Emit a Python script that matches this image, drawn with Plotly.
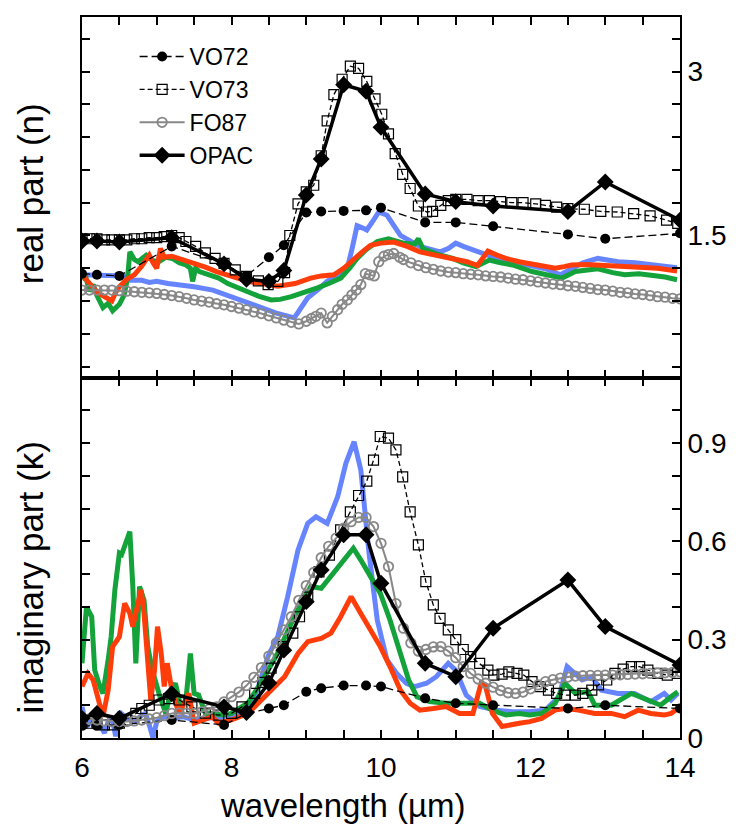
import plotly.graph_objects as go

# ---------------- DATA ----------------
opac_wl = [6.0, 6.2, 6.5, 7.2, 7.9, 8.2, 8.5, 8.7, 9.0, 9.2, 9.5, 9.8, 10.0, 10.591, 11.0, 11.5, 12.5, 13.0, 14.0]
opac_n = [1.45, 1.45, 1.44, 1.48, 1.24, 1.10, 1.08, 1.18, 1.87, 2.20, 2.88, 2.82, 2.49, 1.88, 1.81, 1.77, 1.72, 1.99, 1.64]
opac_k = [0.06, 0.075, 0.06, 0.135, 0.095, 0.078, 0.168, 0.268, 0.416, 0.513, 0.62, 0.62, 0.472, 0.228, 0.187, 0.335, 0.482, 0.34, 0.223]

vo72_wl = [6.0, 6.2, 6.5, 7.2, 7.9, 8.2, 8.5, 8.7, 9.0, 9.2, 9.5, 9.8, 10.0, 10.591, 11.0, 11.5, 12.5, 13.0, 14.0]
vo72_n = [1.15, 1.14, 1.13, 1.40, 1.24, 1.13, 1.30, 1.41, 1.71, 1.72, 1.725, 1.73, 1.755, 1.62, 1.62, 1.585, 1.51, 1.47, 1.52]
vo72_k = [0.037, 0.037, 0.04, 0.055, 0.04, 0.075, 0.09, 0.10, 0.141, 0.152, 0.16, 0.16, 0.157, 0.121, 0.106, 0.10, 0.09, 0.10, 0.09]

vo73_n_wl = [6.0, 6.1, 6.2, 6.3, 6.4, 6.5, 6.6, 6.7, 6.8, 6.9, 7.0, 7.1, 7.2, 7.3, 7.39, 7.52, 7.65, 7.78, 7.9, 8.05,
             8.2, 8.36, 8.49, 8.62, 8.71, 8.78, 8.89, 9.0, 9.1, 9.2, 9.28, 9.37, 9.48, 9.59, 9.70, 9.81, 9.92, 10.01, 10.1, 10.19,
             10.29, 10.39, 10.5, 10.61, 10.69, 10.8, 10.9, 11.0, 11.15, 11.3, 11.45, 11.6, 11.75, 11.9, 12.07, 12.2, 12.35, 12.5, 12.72, 12.94,
             13.16, 13.38, 13.6, 13.82, 13.97]
vo73_n = [1.47, 1.47, 1.47, 1.46, 1.46, 1.46, 1.46, 1.47, 1.47, 1.48, 1.48, 1.49, 1.50, 1.48, 1.445, 1.40, 1.34, 1.29, 1.245, 1.185,
          1.125, 1.085, 1.05, 1.08, 1.16, 1.50, 1.79, 1.90, 1.96, 2.23, 2.55, 2.79, 2.93, 3.05, 3.03, 2.91, 2.75, 2.61, 2.43, 2.25,
          2.06, 1.93, 1.77, 1.715, 1.72, 1.775, 1.82, 1.83, 1.83, 1.82, 1.82, 1.81, 1.80, 1.80, 1.79, 1.775, 1.76, 1.745, 1.74, 1.72,
          1.715, 1.70, 1.68, 1.64, 1.61]

vo73_k_wl = [6.0, 6.1, 6.2, 6.3, 6.41, 6.5, 6.6, 6.72, 6.8, 6.9, 7.03, 7.16, 7.3, 7.47, 7.65, 7.83, 8.0, 8.14, 8.31, 8.42,
             8.53, 8.69, 8.82, 8.91, 9.02, 9.17, 9.31, 9.46, 9.59, 9.7, 9.81, 9.9, 9.99, 10.1, 10.2, 10.29, 10.39, 10.5, 10.6, 10.7,
             10.79, 10.9, 11.0, 11.1, 11.2, 11.32, 11.43, 11.51, 11.62, 11.71, 11.82, 11.91, 12.02, 12.13, 12.24, 12.35, 12.46, 12.6, 12.7, 12.82,
             12.91, 13.02, 13.13, 13.24, 13.35, 13.46, 13.57, 13.7, 13.83, 13.97]
vo73_k = [0.045, 0.045, 0.045, 0.04, 0.04, 0.045, 0.055, 0.075, 0.09, 0.10, 0.116, 0.12, 0.116, 0.095, 0.076, 0.07, 0.075, 0.095, 0.136, 0.17,
          0.213, 0.279, 0.32, 0.37, 0.43, 0.507, 0.558, 0.635, 0.69, 0.74, 0.784, 0.848, 0.92, 0.915, 0.879, 0.797, 0.69, 0.589, 0.477, 0.406,
          0.365, 0.33, 0.30, 0.27, 0.248, 0.228, 0.207, 0.192, 0.195, 0.202, 0.197, 0.192, 0.172, 0.157, 0.146, 0.136, 0.131, 0.131, 0.136, 0.146,
          0.162, 0.177, 0.197, 0.21, 0.218, 0.218, 0.207, 0.197, 0.192, 0.197]

fo87_n_wl = [6.0, 6.1, 6.2, 6.3, 6.4, 6.5, 6.6, 6.7, 6.8, 6.9, 7.0, 7.1, 7.2, 7.3, 7.4, 7.5, 7.6, 7.7, 7.8, 7.9,
             8.0, 8.1, 8.2, 8.3, 8.4, 8.5, 8.6, 8.7, 8.8, 8.9, 9.0, 9.07, 9.13, 9.2, 9.28, 9.35, 9.42, 9.48, 9.55, 9.61,
             9.67, 9.73, 9.79, 9.85, 9.91, 9.97, 10.04, 10.1, 10.17, 10.25, 10.3, 10.4, 10.5, 10.6, 10.7, 10.8, 10.9, 11.0, 11.1, 11.2,
             11.3, 11.4, 11.5, 11.6, 11.7, 11.8, 11.9, 12.0, 12.1, 12.2, 12.3, 12.4, 12.5, 12.6, 12.7, 12.8, 12.9, 13.0, 13.1, 13.2,
             13.3, 13.4, 13.5, 13.6, 13.7, 13.8, 13.9, 14.0]
fo87_n = [1.0, 1.0, 1.0, 1.0, 1.0, 0.995, 0.99, 0.985, 0.98, 0.975, 0.97, 0.96, 0.95, 0.94, 0.925, 0.91, 0.90, 0.89, 0.875, 0.865,
          0.85, 0.835, 0.82, 0.80, 0.785, 0.765, 0.745, 0.725, 0.705, 0.69, 0.715, 0.74, 0.76, 0.79, 0.70, 0.76, 0.82, 0.87, 0.91, 0.955,
          1.0, 1.05, 1.15, 1.14, 1.13, 1.26, 1.31, 1.325, 1.335, 1.30, 1.28, 1.25, 1.225, 1.205, 1.19, 1.175, 1.165, 1.16, 1.15, 1.145,
          1.14, 1.13, 1.125, 1.12, 1.11, 1.10, 1.095, 1.085, 1.075, 1.065, 1.055, 1.05, 1.04, 1.035, 1.025, 1.015, 1.005, 1.0, 0.99, 0.98,
          0.975, 0.965, 0.96, 0.95, 0.94, 0.935, 0.925, 0.92]

fo87_k_wl = [6.0, 6.1, 6.2, 6.3, 6.4, 6.5, 6.6, 6.7, 6.8, 6.9, 7.0, 7.1, 7.2, 7.3, 7.4, 7.5, 7.6, 7.7, 7.8, 7.9,
             8.0, 8.1, 8.2, 8.3, 8.4, 8.5, 8.6, 8.7, 8.8, 8.9, 9.0, 9.1, 9.2, 9.3, 9.4, 9.5, 9.6, 9.7, 9.8, 9.9,
             10.0, 10.1, 10.2, 10.3, 10.4, 10.5, 10.6, 10.7, 10.8, 10.9, 11.0, 11.1, 11.2, 11.3, 11.4, 11.5, 11.6, 11.7, 11.8, 11.9,
             12.0, 12.1, 12.2, 12.3, 12.4, 12.5, 12.6, 12.7, 12.8, 12.9, 13.0, 13.1, 13.2, 13.3, 13.4, 13.5, 13.6, 13.7, 13.8, 13.9, 14.0]
fo87_k = [0.06, 0.058, 0.055, 0.052, 0.05, 0.05, 0.05, 0.052, 0.055, 0.058, 0.062, 0.068, 0.075, 0.076, 0.076, 0.075, 0.08, 0.088, 0.095, 0.11,
          0.126, 0.14, 0.16, 0.185, 0.215, 0.25, 0.29, 0.33, 0.37, 0.42, 0.465, 0.505, 0.55, 0.585, 0.61, 0.64, 0.66, 0.673, 0.673, 0.645,
          0.594, 0.523, 0.41, 0.335, 0.29, 0.265, 0.27, 0.278, 0.279, 0.265, 0.245, 0.218, 0.197, 0.18, 0.167, 0.155, 0.145, 0.138, 0.136, 0.14,
          0.15, 0.162, 0.172, 0.178, 0.183, 0.186, 0.189, 0.19, 0.191, 0.191, 0.192, 0.192, 0.193, 0.194, 0.195, 0.196, 0.197, 0.198, 0.199, 0.20, 0.202]

blue_n_wl = [6.0, 6.2, 6.4, 6.55, 6.65, 6.8, 6.9, 7.0, 7.15, 7.3, 7.5, 7.75, 7.96, 8.2, 8.4, 8.6, 8.84, 9.02, 9.15, 9.28,
             9.42, 9.55, 9.62, 9.68, 9.75, 9.81, 9.9, 9.97, 10.08, 10.26, 10.52, 10.79, 10.9, 11.0, 11.1, 11.23, 11.49, 11.85, 12.2, 12.4,
             12.55, 12.7, 12.9, 13.17, 13.4, 13.61, 13.8, 13.96]
blue_n = [1.14, 1.14, 1.14, 1.13, 1.09, 1.09, 1.07, 1.08, 1.06, 1.05, 1.03, 1.0, 0.95, 0.89, 0.835, 0.79, 0.745, 0.93, 1.0, 1.08,
          1.14, 1.20, 1.40, 1.59, 1.57, 1.55, 1.64, 1.715, 1.685, 1.50, 1.40, 1.35, 1.38, 1.43, 1.40, 1.37, 1.305, 1.245, 1.195, 1.14,
          1.20, 1.25, 1.29, 1.26, 1.25, 1.235, 1.22, 1.205]

green_n_wl = [6.0, 6.05, 6.1, 6.15, 6.2, 6.28, 6.35, 6.41, 6.5, 6.56, 6.61, 6.64, 6.7, 6.75, 6.86, 6.95, 7.03, 7.12, 7.21, 7.3,
              7.39, 7.45, 7.48, 7.52, 7.57, 7.7, 7.83, 7.95, 8.09, 8.2, 8.36, 8.53, 8.65, 8.8, 9.0, 9.15, 9.3, 9.46, 9.58, 9.68,
              9.8, 9.95, 10.1, 10.3, 10.45, 10.5, 10.56, 10.75, 10.96, 11.1, 11.27, 11.45, 11.6, 11.76, 12.02, 12.2, 12.42, 12.6, 12.75, 12.9,
              13.1, 13.26, 13.45, 13.6, 13.8, 13.96]
green_n = [1.10, 1.12, 0.99, 1.05, 0.95, 0.84, 0.88, 0.81, 0.87, 0.95, 1.11, 1.35, 1.28, 1.26, 1.32, 1.27, 1.26, 1.30, 1.29, 1.25,
           1.23, 1.20, 1.08, 1.20, 1.17, 1.14, 1.11, 1.06, 1.02, 0.98, 0.945, 0.91, 0.915, 0.94, 0.98, 1.02, 1.06, 1.11, 1.20, 1.29,
           1.37, 1.445, 1.47, 1.43, 1.42, 1.47, 1.38, 1.33, 1.29, 1.25, 1.215, 1.275, 1.25, 1.23, 1.17, 1.14, 1.11, 1.17, 1.18, 1.195,
           1.16, 1.14, 1.15, 1.14, 1.12, 1.095]

red_n_wl = [6.0, 6.05, 6.1, 6.18, 6.25, 6.32, 6.4, 6.45, 6.5, 6.6, 6.7, 6.8, 6.9, 6.95, 7.0, 7.05, 7.1, 7.2, 7.35, 7.5,
            7.65, 7.8, 8.0, 8.22, 8.4, 8.62, 8.85, 9.06, 9.2, 9.37, 9.5, 9.64, 9.75, 9.86, 10.0, 10.17, 10.35, 10.52, 10.75, 10.96,
            11.15, 11.29, 11.43, 11.55, 11.67, 11.85, 12.02, 12.2, 12.33, 12.45, 12.55, 12.75, 12.95, 13.2, 13.44, 13.7, 13.96]
red_n = [1.14, 1.10, 1.05, 1.00, 0.96, 0.93, 0.90, 0.98, 1.03, 1.10, 1.14, 1.22, 1.32, 1.25, 1.20, 1.38, 1.30, 1.31, 1.28, 1.245,
         1.21, 1.17, 1.125, 1.08, 1.06, 1.035, 1.06, 1.11, 1.13, 1.14, 1.20, 1.29, 1.35, 1.41, 1.43, 1.44, 1.40, 1.35, 1.32, 1.29,
         1.26, 1.225, 1.357, 1.32, 1.29, 1.26, 1.235, 1.215, 1.20, 1.215, 1.23, 1.235, 1.23, 1.22, 1.215, 1.20, 1.175]

blue_k_wl = [6.0, 6.03, 6.06, 6.1, 6.15, 6.2, 6.25, 6.3, 6.35, 6.4, 6.45, 6.5, 6.6, 6.7, 6.8, 6.85, 6.9, 6.95, 7.0, 7.1,
             7.2, 7.35, 7.5, 7.7, 7.96, 8.1, 8.22, 8.35, 8.49, 8.62, 8.75, 8.89, 9.02, 9.13, 9.28, 9.42, 9.53, 9.64, 9.73, 9.84,
             9.95, 10.08, 10.21, 10.34, 10.45, 10.61, 10.74, 10.9, 11.0, 11.14, 11.32, 11.54, 11.76, 11.98, 12.2, 12.38, 12.49, 12.57, 12.69, 12.82,
             12.95, 13.17, 13.39, 13.61, 13.79, 13.88, 13.97]
blue_k = [0.095, 0.06, 0.035, 0.05, 0.04, 0.06, 0.04, 0.015, 0.05, 0.065, 0.005, 0.08, 0.06, 0.05, 0.07, 0.075, 0.04, 0.0, 0.05, 0.065,
          0.06, 0.065, 0.055, 0.06, 0.065, 0.072, 0.085, 0.15, 0.25, 0.31, 0.43, 0.574, 0.655, 0.675, 0.655, 0.736, 0.838, 0.904, 0.818, 0.564,
          0.36, 0.238, 0.197, 0.167, 0.157, 0.167, 0.187, 0.228, 0.207, 0.131, 0.096, 0.085, 0.08, 0.08, 0.085, 0.126, 0.218, 0.202, 0.177, 0.187,
          0.146, 0.136, 0.136, 0.111, 0.136, 0.116, 0.136]

green_k_wl = [6.0, 6.06, 6.13, 6.17, 6.24, 6.28, 6.35, 6.39, 6.44, 6.5, 6.53, 6.59, 6.64, 6.68, 6.72, 6.77, 6.83, 6.88, 6.94, 7.03,
              7.12, 7.19, 7.25, 7.32, 7.39, 7.45, 7.5, 7.56, 7.65, 7.74, 7.87, 8.0, 8.22, 8.4, 8.62, 8.84, 9.06, 9.2, 9.37, 9.51,
              9.63, 9.73, 9.86, 9.99, 10.12, 10.26, 10.37, 10.48, 10.65, 10.87, 11.14, 11.32, 11.49, 11.67, 11.85, 11.99, 12.15, 12.33, 12.46, 12.6,
              12.77, 12.86, 13.08, 13.35, 13.57, 13.74, 13.88, 13.97]
green_k = [0.228, 0.40, 0.37, 0.207, 0.157, 0.136, 0.238, 0.309, 0.452, 0.564, 0.56, 0.594, 0.63, 0.462, 0.228, 0.462, 0.42, 0.279, 0.207, 0.136,
           0.075, 0.146, 0.167, 0.096, 0.116, 0.258, 0.136, 0.131, 0.075, 0.075, 0.07, 0.075, 0.107, 0.17, 0.26, 0.37, 0.462, 0.457, 0.503, 0.543,
           0.579, 0.543, 0.492, 0.442, 0.36, 0.258, 0.177, 0.126, 0.111, 0.106, 0.106, 0.106, 0.085, 0.07, 0.075, 0.07, 0.075, 0.106, 0.167, 0.136,
           0.141, 0.10, 0.10, 0.136, 0.116, 0.10, 0.126, 0.141]

red_k_wl = [6.0, 6.08, 6.15, 6.22, 6.28, 6.35, 6.41, 6.5, 6.57, 6.64, 6.68, 6.75, 6.79, 6.83, 6.88, 6.92, 6.97, 7.01, 7.06, 7.1,
            7.14, 7.21, 7.3, 7.43, 7.5, 7.61, 7.74, 7.83, 8.0, 8.22, 8.49, 8.71, 8.89, 9.02, 9.2, 9.33, 9.46, 9.6, 9.73, 9.86,
            9.99, 10.12, 10.26, 10.39, 10.52, 10.7, 10.87, 11.05, 11.23, 11.34, 11.4, 11.49, 11.62, 11.85, 11.99, 12.15, 12.33, 12.46, 12.64, 12.86,
            13.08, 13.26, 13.44, 13.61, 13.79, 13.88, 13.97]
red_k = [0.157, 0.197, 0.177, 0.116, 0.065, 0.146, 0.279, 0.309, 0.411, 0.38, 0.34, 0.411, 0.452, 0.38, 0.238, 0.116, 0.207, 0.34, 0.258, 0.157,
         0.228, 0.136, 0.075, 0.136, 0.045, 0.055, 0.065, 0.045, 0.055, 0.075, 0.136, 0.187, 0.258, 0.294, 0.304, 0.32, 0.37, 0.431, 0.38, 0.33,
         0.279, 0.218, 0.146, 0.106, 0.085, 0.09, 0.096, 0.075, 0.075, 0.167, 0.157, 0.075, 0.035, 0.045, 0.05, 0.06, 0.085, 0.09, 0.085, 0.075,
         0.075, 0.065, 0.085, 0.075, 0.07, 0.075, 0.09]

# tick positions / labels
x_tick_vals = [6, 6.5, 7, 7.5, 8, 8.5, 9, 9.5, 10, 10.5, 11, 11.5, 12, 12.5, 13, 13.5, 14]
x_tick_text = ["6", "", "", "", "8", "", "", "", "10", "", "", "", "12", "", "", "", "14"]
n_tick_vals = [0.3, 0.6, 0.9, 1.2, 1.5, 1.8, 2.1, 2.4, 2.7, 3.0, 3.3]
n_tick_text = ["", "", "", "", "1.5", "", "", "", "", "3", ""]
k_tick_vals = [0, 0.1, 0.2, 0.3, 0.4, 0.5, 0.6, 0.7, 0.8, 0.9, 1.0]
k_tick_text = ["0", "", "", "0.3", "", "", "0.6", "", "", "0.9", ""]

# ---------------- STYLE ----------------
FONT = "Arial, Liberation Sans, sans-serif"
BLUE = "#6784ff"
GREEN = "#14a23a"
RED = "#ff3d0a"
GRAY = "#888888"

fig = go.Figure()

def add_panel(yax, xax, bl, gr, rd, fo, v72, v73, op, legend):
    for (wl, vals, col) in [bl + (BLUE,), gr + (GREEN,), rd + (RED,)]:
        fig.add_trace(go.Scatter(x=wl, y=vals, mode="lines", line=dict(color=col, width=5),
                                 showlegend=False, xaxis=xax, yaxis=yax, hoverinfo="skip"))
    fig.add_trace(go.Scatter(x=v72[0], y=v72[1], mode="lines+markers", name="VO72",
                             line=dict(color="black", width=1.3, dash="8px,4px"),
                             marker=dict(symbol="circle", size=10, color="black"),
                             showlegend=legend, legendrank=1, xaxis=xax, yaxis=yax))
    fig.add_trace(go.Scatter(x=v73[0], y=v73[1], mode="lines+markers", name="VO73",
                             line=dict(color="black", width=1.3, dash="5px,3px"),
                             marker=dict(symbol="square-open", size=10, color="black", line=dict(width=1.2)),
                             showlegend=legend, legendrank=2, xaxis=xax, yaxis=yax))
    fig.add_trace(go.Scatter(x=fo[0], y=fo[1], mode="lines+markers", name="FO87",
                             line=dict(color=GRAY, width=2),
                             marker=dict(symbol="circle-open", size=9.5, color=GRAY, line=dict(width=1.8)),
                             showlegend=legend, legendrank=3, xaxis=xax, yaxis=yax))
    fig.add_trace(go.Scatter(x=op[0], y=op[1], mode="lines+markers", name="OPAC",
                             line=dict(color="black", width=3.5),
                             marker=dict(symbol="diamond", size=13, color="black"),
                             showlegend=legend, legendrank=4, xaxis=xax, yaxis=yax))

add_panel("y2", "x2", (blue_n_wl, blue_n), (green_n_wl, green_n), (red_n_wl, red_n),
          (fo87_n_wl, fo87_n), (vo72_wl, vo72_n), (vo73_n_wl, vo73_n), (opac_wl, opac_n), True)
add_panel("y", "x", (blue_k_wl, blue_k), (green_k_wl, green_k), (red_k_wl, red_k),
          (fo87_k_wl, fo87_k), (vo72_wl, vo72_k), (vo73_k_wl, vo73_k), (opac_wl, opac_k), False)

axis_common = dict(showline=True, linecolor="black", linewidth=2, mirror="allticks",
                   ticks="inside", tickcolor="black", tickwidth=1.5, ticklen=8, showgrid=False, zeroline=False,
                   tickmode="array", tickfont=dict(family=FONT, size=28, color="black"))

fig.update_layout(
    width=739, height=826,
    margin=dict(l=82, r=53, t=17, b=88),
    plot_bgcolor="white", paper_bgcolor="white",
    font=dict(family=FONT, color="black"),
    xaxis=dict(range=[6, 14], tickvals=x_tick_vals, ticktext=x_tick_text, anchor="y",
               ticklabelstandoff=3, **axis_common),
    xaxis2=dict(range=[6, 14], tickvals=x_tick_vals, ticktext=x_tick_text, anchor="y2", matches="x",
                showticklabels=False, **axis_common),
    yaxis=dict(domain=[0, 0.5], range=[0, 1.1], tickvals=k_tick_vals, ticktext=k_tick_text,
               side="right", anchor="x", **axis_common),
    yaxis2=dict(domain=[0.5, 1], range=[0.2, 3.5], tickvals=n_tick_vals, ticktext=n_tick_text,
                side="right", anchor="x2", **axis_common),
    legend=dict(x=0.088, y=0.975, xanchor="left", yanchor="top", bgcolor="rgba(0,0,0,0)",
                font=dict(family=FONT, size=23, color="black"), itemwidth=45, tracegroupgap=0),
    annotations=[
        dict(text="real part (n)", xref="paper", yref="paper", x=-0.086, y=0.755, xanchor="center",
             yanchor="middle", textangle=-90, showarrow=False, font=dict(family=FONT, size=35, color="black")),
        dict(text="imaginary part (k)", xref="paper", yref="paper", x=-0.086, y=0.222, xanchor="center",
             yanchor="middle", textangle=-90, showarrow=False, font=dict(family=FONT, size=35, color="black")),
        dict(text="wavelength (µm)", xref="paper", yref="paper", x=0.437, y=-0.094, xanchor="center",
             yanchor="middle", showarrow=False, font=dict(family=FONT, size=33, color="black")),
    ],
)

fig.write_html("out.html")
